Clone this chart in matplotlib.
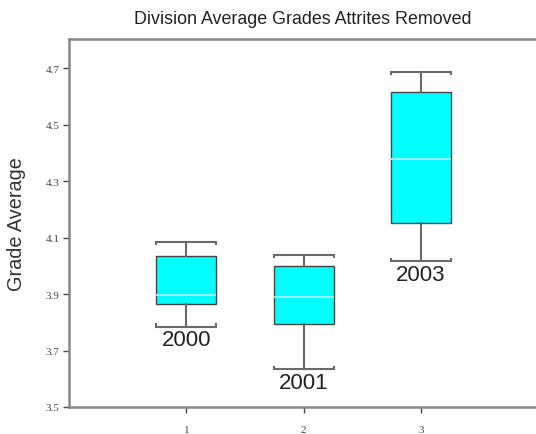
import matplotlib
matplotlib.use("Agg")
import matplotlib.pyplot as plt

positions = [1, 2, 3]
years = ["2000", "2001", "2003"]
whis_hi = [4.086, 4.040, 4.687]
q3 = [4.034, 3.999, 4.616]
median = [3.897, 3.889, 4.379]
q1 = [3.864, 3.793, 4.152]
whis_lo = [3.785, 3.635, 4.017]
yticks = [3.5, 3.7, 3.9, 4.1, 4.3, 4.5, 4.7]

fig = plt.figure(figsize=(5.36, 4.35), dpi=100)
ax = fig.add_axes([69/536, 1-408/435, 1-69/536, (408-40)/435])

stats = []
for i in range(3):
    stats.append(dict(med=median[i], q1=q1[i], q3=q3[i], whislo=whis_lo[i], whishi=whis_hi[i], fliers=[], label=years[i]))

res = ax.bxp(stats, positions=positions, widths=0.51, patch_artist=True, showfliers=False,
             boxprops=dict(facecolor="#00ffff", edgecolor="#444444", linewidth=1.0),
             whiskerprops=dict(color="#6a6a6a", linewidth=1.5),
             capprops=dict(color="#6a6a6a", linewidth=1.5),
             medianprops=dict(color="#b8f4f4", linewidth=1.2),
             capwidths=0.51)

# bracket ends on caps
for j, cap in enumerate(res["caps"]):
    xs = cap.get_xdata()
    y = cap.get_ydata()[0]
    d = 0.012 if j % 2 == 0 else -0.012  # low cap: ticks up; high cap: ticks down
    for x in (xs[0], xs[1]):
        ax.plot([x, x], [y, y + d], color="#6a6a6a", linewidth=1.5, solid_capstyle="butt")

for i in range(3):
    ax.text(positions[i], whis_lo[i] - 0.010, years[i], ha="center", va="top",
            fontsize=16, color="#222222", family="Liberation Sans")

ax.set_xlim(0, 3.98)
ax.set_ylim(3.5, 4.804)
ax.set_xticks(positions)
ax.set_xticklabels(["1", "2", "3"])
ax.set_yticks(yticks)
ax.set_yticklabels([f"{v:.1f}" for v in yticks])
ax.tick_params(axis="both", labelsize=8, colors="#444444", length=4, width=1, direction="out")
ax.tick_params(axis="x", pad=9)
ax.tick_params(axis="y", pad=3)
for lab in ax.get_xticklabels() + ax.get_yticklabels():
    lab.set_family("Liberation Serif")
for s in ("left", "bottom", "top"):
    ax.spines[s].set_color("#888888")
    ax.spines[s].set_linewidth(1.8)
ax.spines["right"].set_visible(False)

ax.set_ylabel("Grade Average", fontsize=14.3, color="#333333", family="Liberation Sans", labelpad=14)
fig.text((69 + 536) / 2 / 536, 1 - 20/435, "Division Average Grades Attrites Removed", ha="center", va="center",
         fontsize=12.9, color="#222222", family="Liberation Sans")

fig.savefig("out.png", dpi=100)
